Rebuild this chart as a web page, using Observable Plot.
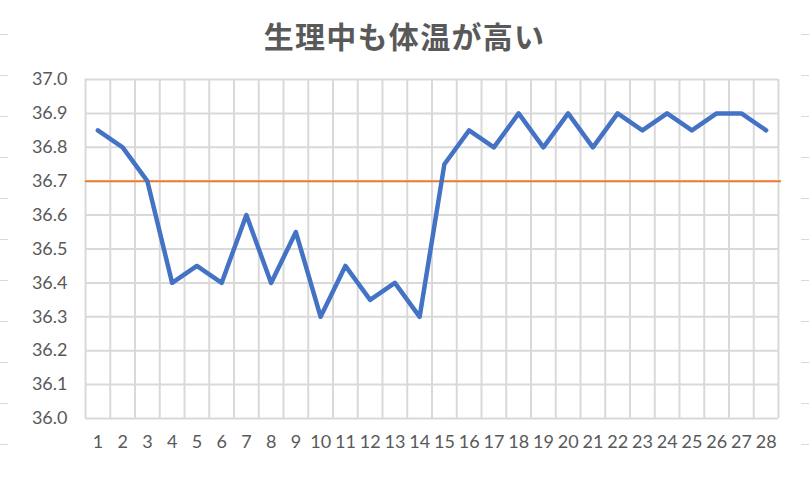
<!DOCTYPE html>
<html>
<head>
<meta charset="utf-8">
<script src="https://cdn.jsdelivr.net/npm/d3@7"></script>
<script src="https://cdn.jsdelivr.net/npm/@observablehq/plot@0.6"></script>
<style>
  html, body { margin: 0; padding: 0; background: #fff; }
  #wrap { position: relative; width: 809px; height: 479px; overflow: hidden; }
  #title { height: 70px; line-height: 70px; text-align: center; color: #595959;
           font-family: "Noto Sans CJK JP", sans-serif; font-weight: bold; font-size: 30px; letter-spacing: 1.3px; }
</style>
</head>
<body>
<div id="wrap">
  <div id="ticksL" style="position:absolute;left:0;top:0;width:8px;height:479px;"></div>
  <div id="ticksR" style="position:absolute;left:801px;top:0;width:8px;height:479px;"></div>
  <div id="title">生理中も体温が高い</div>
  <div id="chart"></div>
</div>
<script>
const days = [1,2,3,4,5,6,7,8,9,10,11,12,13,14,15,16,17,18,19,20,21,22,23,24,25,26,27,28];
const temps = [36.85,36.8,36.7,36.4,36.45,36.4,36.6,36.4,36.55,36.3,36.45,36.35,36.4,36.3,
               36.75,36.85,36.8,36.9,36.8,36.9,36.8,36.9,36.85,36.9,36.85,36.9,36.9,36.85];
const baseline = 36.7;
const yTicks = [36.0,36.1,36.2,36.3,36.4,36.5,36.6,36.7,36.8,36.9,37.0];
const xBounds = [0.5, ...days.map(d => d + 0.5)];

// decorative edge marks of the sheet
for (const id of ["ticksL", "ticksR"]) {
  const el = document.getElementById(id);
  for (let y = 34; y < 479; y += 41) {
    const s = document.createElement("div");
    s.style.cssText = `position:absolute;left:0;top:${y}px;width:8px;height:1px;background:#d9d9d9;`;
    el.appendChild(s);
  }
}

const data = days.map((d, i) => ({day: d, temp: temps[i]}));

const chart = Plot.plot({
  width: 809,
  height: 409,
  marginTop: 9,
  marginBottom: 61,
  marginLeft: 85,
  marginRight: 31,
  x: {domain: [0.5, 28.5], label: null},
  y: {domain: [36, 37], label: null},
  style: {fontFamily: "Lato, sans-serif", fontSize: "18px", color: "#595959", background: "transparent", overflow: "visible"},
  marks: [
    Plot.gridY(yTicks, {stroke: "#d9d9d9", strokeOpacity: 1, strokeWidth: 2}),
    Plot.gridX(xBounds, {stroke: "#d9d9d9", strokeOpacity: 1, strokeWidth: 2}),
    Plot.axisX(days, {tickSize: 0, tickPadding: 17, tickFormat: d => String(d), label: null, letterSpacing: 0.3}),
    Plot.axisY(yTicks, {tickSize: 0, tickPadding: 18, tickFormat: d3.format(".1f"), label: null, letterSpacing: 0.6}),
    Plot.ruleY([baseline], {stroke: "#ED7D31", strokeWidth: 2, insetRight: -3}),
    Plot.line(data, {x: "day", y: "temp", stroke: "#4472C4", strokeWidth: 4.5, strokeLinejoin: "round", strokeLinecap: "round"})
  ]
});
document.getElementById("chart").appendChild(chart);
</script>
</body>
</html>
